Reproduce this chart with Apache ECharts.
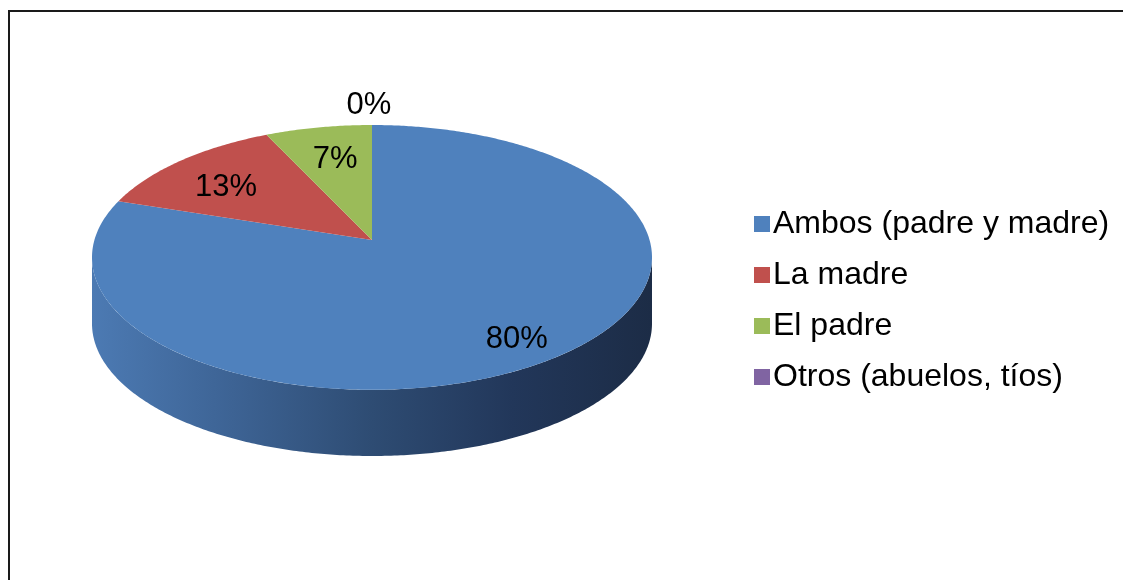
<!DOCTYPE html>
<html>
<head>
<meta charset="utf-8">
<script src="https://cdn.jsdelivr.net/npm/echarts@6/dist/echarts.min.js"></script>
<style>
  html, body { margin: 0; padding: 0; background: #fff; }
  #chart { width: 1123px; height: 580px; }
</style>
</head>
<body>
<div id="chart"></div>
<script>
// ---- data ----
const categories = ['Ambos (padre y madre)', 'La madre', 'El padre', 'Otros (abuelos, tíos)'];
const values = [80, 13, 7, 0];
const colors = ['#4f81bd', '#c0504d', '#9bbb59', '#8064a2'];

// ---- geometry / style ----
const DEPTH = 0.5;            // pie thickness in ellipse-radius units
const PERSP = 0.132;          // perspective factor (apex shift)
const LABEL_R = 0.78;         // inside label radius factor
const OUT_LABEL_R = 1.3;      // radius for zero slices
const LABEL_DX = 6, LABEL_DY = 10, OUT_LABEL_DX = -3;
const FONT = '"Liberation Sans", Arial, sans-serif';

const total = values.reduce((a, b) => a + b, 0);
const starts = [];
let acc = 0;
values.forEach(v => { starts.push(acc); acc += v; });

// perspective projection of a point on the pie plane (X right, Z away from viewer)
function project(X, Z) {
  const d = 1 + PERSP * Z;
  return [Math.sqrt(1 - PERSP * PERSP) * X / d, (Z + PERSP) / d];
}
function pt(api, t, r, dy) {
  const p = project(r * Math.sin(t), r * Math.cos(t));
  return api.coord([p[0], p[1] + (dy || 0)]);
}

function makeRender(idx) {
  return function (params, api) {
    const ta = starts[idx] / total * Math.PI * 2;
    const tb = (starts[idx] + values[idx]) / total * Math.PI * 2;
    const children = [];
    const left = api.coord([-1, 0])[0];
    const right = api.coord([1, 0])[0];
    // side wall (visible front part, between silhouette points)
    const s0 = Math.acos(-PERSP), s1 = Math.PI * 2 - s0;
    const fa = Math.max(ta, s0), fb = Math.min(tb, s1);
    if (fb > fa) {
      const pts = [];
      const n = Math.max(2, Math.ceil((fb - fa) / 0.01));
      for (let i = 0; i <= n; i++) pts.push(pt(api, fa + (fb - fa) * i / n, 1, 0));
      for (let i = n; i >= 0; i--) pts.push(pt(api, fa + (fb - fa) * i / n, 1, -DEPTH));
      children.push({
        type: 'polygon',
        shape: { points: pts },
        style: {
          fill: {
            type: 'linear', x: left, y: 0, x2: right, y2: 0, global: true,
            colorStops: [
              { offset: 0, color: '#4c7ab3' },
              { offset: 0.25, color: '#3d6394' },
              { offset: 0.5, color: '#2e4c73' },
              { offset: 0.75, color: '#22375a' },
              { offset: 1, color: '#1c2c46' }
            ]
          }
        }
      });
    }
    // top face
    if (tb > ta) {
      const apex = project(0, 0);
      const pts = [api.coord(apex)];
      const n = Math.max(2, Math.ceil((tb - ta) / 0.01));
      for (let i = 0; i <= n; i++) pts.push(pt(api, ta + (tb - ta) * i / n, 1, 0));
      children.push({
        type: 'polygon',
        shape: { points: pts },
        style: { fill: colors[idx] }
      });
    }
    // label
    const tm = (ta + tb) / 2;
    const inside = values[idx] > 0;
    const lp = pt(api, tm, inside ? LABEL_R : OUT_LABEL_R, 0);
    const pct = Math.round(values[idx] / total * 100) + '%';
    children.push({
      type: 'text',
      z2: 100,
      x: lp[0] + (inside ? LABEL_DX : OUT_LABEL_DX),
      y: lp[1] + LABEL_DY,
      style: {
        text: pct,
        fill: '#000',
        font: '31px ' + FONT,
        align: 'center',
        verticalAlign: 'middle'
      }
    });
    return { type: 'group', children: children };
  };
}

const series = categories.map((name, i) => ({
  name: name,
  type: 'custom',
  coordinateSystem: 'cartesian2d',
  itemStyle: { color: colors[i] },
  data: [[0, 0]],
  renderItem: makeRender(i)
}));

const chart = echarts.init(document.getElementById('chart'));
chart.setOption({
  animation: false,
  backgroundColor: '#ffffff',
  graphic: [{
    type: 'rect',
    shape: { x: 9, y: 11, width: 1300, height: 800 },
    style: { fill: 'none', stroke: '#1a1a1a', lineWidth: 2 }
  }],
  grid: { left: 92, right: 471, top: 125, bottom: 124 },
  xAxis: { type: 'value', min: -1, max: 1, show: false },
  yAxis: { type: 'value', min: -1.5, max: 1, show: false },
  legend: {
    orient: 'vertical',
    left: 749,
    top: 203,
    icon: 'rect',
    itemWidth: 16,
    itemHeight: 16,
    itemGap: 19,
    selectedMode: false,
    data: categories,
    textStyle: { fontSize: 32, fontFamily: FONT, color: '#000', padding: [0, 0, 0, -2] }
  },
  series: series
});
</script>
</body>
</html>
